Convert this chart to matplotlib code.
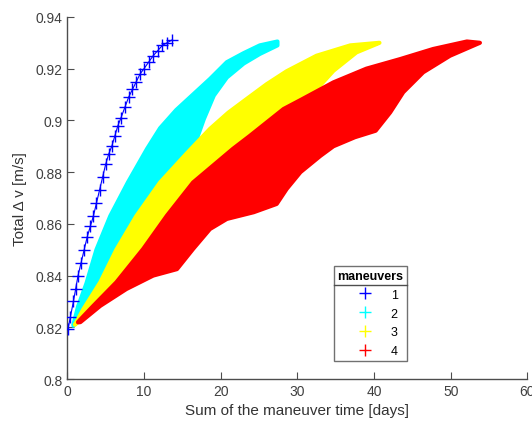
import numpy as np
import matplotlib
matplotlib.use("Agg")
import matplotlib.pyplot as plt
from matplotlib.lines import Line2D

plt.rcParams['font.family'] = ['Liberation Sans', 'DejaVu Sans']

# 1 maneuver: single curve of points
blue_x = [0.1, 0.4, 0.8, 1.1, 1.4, 1.8, 2.2, 2.6, 3.0, 3.4, 3.8, 4.2, 4.6, 5.0, 5.4,
          5.8, 6.2, 6.6, 7.0, 7.5, 8.0, 8.5, 9.0, 9.5, 10.0, 10.6, 11.2, 11.8, 12.4, 13.0, 13.6]
blue_y = [0.8195, 0.824, 0.830, 0.835, 0.840, 0.845, 0.850, 0.855, 0.859, 0.863, 0.868,
          0.873, 0.878, 0.883, 0.887, 0.890, 0.894, 0.898, 0.901, 0.905, 0.909, 0.912,
          0.915, 0.918, 0.920, 0.9225, 0.925, 0.927, 0.929, 0.930, 0.931]

# 2 maneuvers: upper / lower edge of the cloud
cyan_up_x = [0.8, 1.4, 2.5, 3.8, 5.6, 7.9, 10.4, 12.1, 14.2, 16.4, 18.6, 20.8, 23.0, 25.1, 27.4]
cyan_up_y = [0.821, 0.828, 0.837, 0.850, 0.863, 0.876, 0.889, 0.897, 0.904, 0.910, 0.916,
             0.9225, 0.926, 0.929, 0.9305]
cyan_lo_x = [0.8, 2.1, 4.3, 6.4, 9.0, 12.1, 16.0, 16.9, 17.8, 19.1, 20.8, 23.0, 25.1, 27.4]
cyan_lo_y = [0.8206, 0.827, 0.8374, 0.8503, 0.8632, 0.876, 0.889, 0.893, 0.9005, 0.9096,
             0.9166, 0.922, 0.9257, 0.929]

# 3 maneuvers
yel_up_x = [1.0, 2.1, 4.3, 6.4, 9.0, 12.1, 15.5, 18.6, 21.0, 23.4, 26.0, 28.6, 32.5, 36.9, 40.7]
yel_up_y = [0.821, 0.827, 0.8374, 0.850, 0.863, 0.876, 0.887, 0.8967, 0.903, 0.9083, 0.914,
            0.919, 0.925, 0.929, 0.930]
yel_lo_x = [1.0, 1.7, 3.4, 6.4, 9.9, 13.0, 16.4, 21.6, 23.8, 28.2, 31.0, 32.8, 34.7, 37.7, 40.3, 40.7]
yel_lo_y = [0.821, 0.823, 0.8283, 0.8374, 0.8503, 0.8632, 0.876, 0.889, 0.894, 0.9044, 0.909,
            0.913, 0.9192, 0.9263, 0.9295, 0.930]

# 4 maneuvers
red_up_x = [1.4, 1.7, 3.4, 6.4, 9.9, 13.0, 16.4, 21.6, 23.8, 28.2, 30.5, 34.7, 39.0, 43.4, 47.7, 52.1, 53.8]
red_up_y = [0.822, 0.823, 0.8283, 0.8374, 0.8503, 0.8632, 0.876, 0.889, 0.894, 0.9044, 0.908,
            0.9147, 0.920, 0.9237, 0.9276, 0.9305, 0.930]
red_lo_x = [1.4, 1.7, 4.3, 7.7, 11.2, 14.3, 16.4, 18.6, 20.8, 24.3, 27.3, 28.6, 30.4, 33.0,
            34.7, 37.5, 40.2, 42.1, 43.8, 46.4, 49.9, 53.4, 53.8]
red_lo_y = [0.8219, 0.822, 0.8283, 0.8348, 0.840, 0.8425, 0.8503, 0.858, 0.8619, 0.8645, 0.8677,
            0.8735, 0.880, 0.8863, 0.890, 0.8935, 0.896, 0.9031, 0.9109, 0.9186, 0.925, 0.9295, 0.930]

labels = ['1', '2', '3', '4']
colors = ['#0000ff', '#00ffff', '#ffff00', '#ff0000']

fig = plt.figure(figsize=(5.32, 4.27), dpi=100)
ax = fig.add_axes([0.1265, 0.110, 0.865, 0.848])

bands = [(cyan_up_x, cyan_up_y, cyan_lo_x, cyan_lo_y),
         (yel_up_x, yel_up_y, yel_lo_x, yel_lo_y),
         (red_up_x, red_up_y, red_lo_x, red_lo_y)]
for (ux, uy, lx, ly), c in zip(bands, colors[1:]):
    px = list(ux) + list(lx[::-1])
    py = list(uy) + list(ly[::-1])
    ax.fill(px, py, facecolor=c, edgecolor=c, linewidth=3, joinstyle='round', zorder=2)

ax.plot(blue_x, blue_y, '-+', color=colors[0], lw=0.8, ms=8, mew=1, zorder=3)

ax.set_xlim(0, 60)
ax.set_ylim(0.8, 0.94)
ax.set_xticks(np.arange(0, 61, 10))
ax.set_yticks(np.arange(0.8, 0.9401, 0.02))
ax.set_yticklabels(['0.8', '0.82', '0.84', '0.86', '0.88', '0.9', '0.92', '0.94'])

gray = '#4d4d4d'
for s in ['top', 'right']:
    ax.spines[s].set_visible(False)
for s in ['left', 'bottom']:
    ax.spines[s].set_color(gray)
    ax.spines[s].set_linewidth(1.0)
ax.tick_params(direction='in', length=5, width=0.8, colors=gray, labelsize=10, labelcolor='#404040')

ax.set_xlabel('Sum of the maneuver time [days]', fontsize=11, color='#333333', labelpad=4)
ax.set_ylabel('Total Δ v [m/s]', fontsize=11, color='#333333', labelpad=6)

handles = [Line2D([], [], marker='+', ls='', color=c, ms=8, mew=1) for c in colors]
leg = ax.legend(handles, labels, title='maneuvers', loc='upper left',
                bbox_to_anchor=(0.579, 0.312), fontsize=9, frameon=True, fancybox=False,
                edgecolor=gray, borderpad=0.3, handlelength=3.5, handletextpad=0.3,
                labelspacing=0.55, borderaxespad=0.0)
leg.get_title().set_fontweight('bold')
leg.get_title().set_fontsize(9)
leg.get_frame().set_linewidth(1.0)

# separator line under the legend title
fig.canvas.draw()
lb = leg.get_window_extent()
tb = leg.get_title().get_window_extent()
inv = fig.transFigure.inverted()
(x0, y0), (x1, _) = inv.transform([(lb.x0, tb.y0 - 3), (lb.x1, tb.y0 - 3)])
fig.add_artist(Line2D([x0, x1], [y0, y0], color=gray, lw=1.0))

fig.savefig('out.png', dpi=100)
